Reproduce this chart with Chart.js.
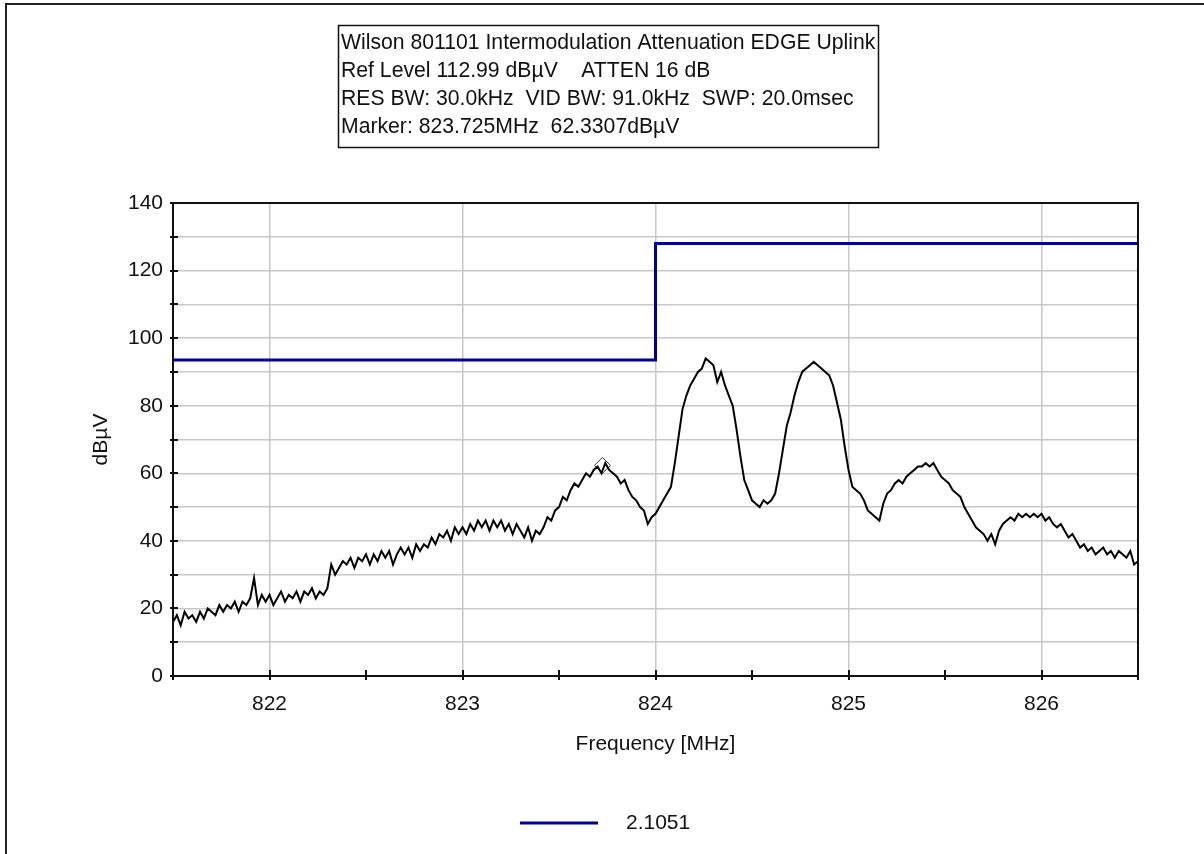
<!DOCTYPE html>
<html>
<head>
<meta charset="utf-8">
<script src="https://cdn.jsdelivr.net/npm/chart.js@4.4.1/dist/chart.umd.min.js"></script>
<style>
  html, body { margin: 0; padding: 0; background: #fff; }
  #wrap { width: 1204px; height: 854px; }
</style>
</head>
<body>
<div id="wrap"><canvas id="im-chart" width="1204" height="854"></canvas></div>
<script>
// Analyzer sweep: 821.5 .. 826.5 MHz, one reading every 20 kHz (dBuV)
const SWEEP_START = 821.5;
const SWEEP_STEP = 0.02;
const LEVELS = [
  16, 18, 15, 19, 17,   18, 16, 19, 17, 20,   19, 18, 21, 19, 21,   20, 22, 19, 22, 21,
  23, 29, 21, 24, 22,   24, 21, 23, 25, 22,   24, 23, 25, 22, 25,   24, 26, 23, 25, 24,
  26, 33, 30, 32, 34,   33, 35, 32, 35, 34,   36, 33, 36, 34, 37,   35, 37, 33, 36, 38,
  36, 38, 35, 39, 37,   39, 38, 41, 39, 42,   41, 43, 40, 44, 42,   44, 42, 45, 43, 46,
  44, 46, 43, 46, 44,   46, 43, 45, 42, 45,   43, 41, 44, 40, 43,   42, 44, 47, 46, 49,
  50, 53, 52, 55, 57,   56, 58, 60, 59, 61,   62, 60, 63, 61, 60,   59, 57, 58, 55, 53,
  52, 50, 49, 45, 47,   48, 50, 52, 54, 56,   63, 71, 79, 83, 86,   88, 90, 91, 94, 93,
  92, 87, 90, 86, 83,   80, 73, 65, 58, 55,   52, 51, 50, 52, 51,   52, 54, 60, 67, 74,
  78, 83, 87, 90, 91,   92, 93, 92, 91, 90,   89, 86, 81, 76, 68,   61, 56, 55, 54, 52,
  49, 48, 47, 46, 51,   54, 55, 57, 58, 57,   59, 60, 61, 62, 62,   63, 62, 63, 61, 59,
  58, 57, 55, 54, 53,   50, 48, 46, 44, 43,   42, 40, 42, 39, 43,   45, 46, 47, 46, 48,
  47, 48, 47, 48, 47,   48, 46, 47, 45, 44,   45, 43, 41, 42, 40,   38, 39, 37, 38, 36,
  37, 38, 36, 37, 35,   37, 36, 35, 37, 33,   34
];

// limit line (stepped) and its legend label
const LIMIT_FREQS = [821.5, 824, 824, 826.5];
const LIMIT_LEVELS = [93.5, 93.5, 128, 128];
const LIMIT_LABEL = '2.1051';

// marker readout
const MARKER_FREQ = 823.725;
const MARKER_LEVEL = 62.3307;

const INFO_LINES = [
  'Wilson 801101 Intermodulation Attenuation EDGE Uplink',
  'Ref Level 112.99 dB\u00b5V    ATTEN 16 dB',
  'RES BW: 30.0kHz  VID BW: 91.0kHz  SWP: 20.0msec',
  'Marker: 823.725MHz  62.3307dB\u00b5V'
];

const X_MIN = 821.5, X_MAX = 826.5, X_STEP = 0.5;
const Y_MIN = 0, Y_MAX = 140, Y_STEP = 10;

const FONT = "'Liberation Sans', Arial, sans-serif";
const NAVY = '#000090';
const GRID = '#c8c8c8';

const isWhole = v => Math.abs(v - Math.round(v)) < 1e-6;

const trace = LEVELS.map((v, i) => ({ x: +(SWEEP_START + i * SWEEP_STEP).toFixed(2), y: v }));
const limit = LIMIT_FREQS.map((f, i) => ({ x: f, y: LIMIT_LEVELS[i] }));

// frame, crossing tick marks, info box and legend
const panelPlugin = {
  id: 'panel',
  beforeDraw(chart) {
    const c = chart.ctx;
    c.save();
    c.fillStyle = '#fff';
    c.fillRect(0, 0, chart.width, chart.height);
    c.restore();
  },
  afterDraw(chart) {
    const c = chart.ctx;
    const { left, right, top, bottom } = chart.chartArea;
    const xs = chart.scales.x, ys = chart.scales.y;
    c.save();

    c.strokeStyle = '#222';
    c.lineWidth = 2;
    c.beginPath();
    c.moveTo(6, chart.height);
    c.lineTo(6, 4);
    c.lineTo(chart.width, 4);
    c.stroke();

    c.strokeStyle = '#111';
    c.strokeRect(left, top, right - left, bottom - top);

    c.beginPath();
    ys.ticks.forEach(t => {
      const y = Math.round(ys.getPixelForValue(t.value));
      c.moveTo(left - 3, y); c.lineTo(left + 5, y);
    });
    xs.ticks.forEach(t => {
      const x = Math.round(xs.getPixelForValue(t.value));
      c.moveTo(x, bottom - 6); c.lineTo(x, bottom + 4);
    });
    c.stroke();

    // info box
    c.lineWidth = 1.5;
    c.strokeStyle = '#111';
    c.strokeRect(338.5, 25.5, 540, 122);
    c.fillStyle = '#111';
    c.font = '21.2px ' + FONT;
    c.textAlign = 'left';
    c.textBaseline = 'middle';
    INFO_LINES.forEach((s, i) => c.fillText(s, 341, 43 + i * 28));

    // legend
    c.strokeStyle = NAVY;
    c.lineWidth = 3;
    c.beginPath();
    c.moveTo(520, 823); c.lineTo(598, 823);
    c.stroke();
    c.font = '21px ' + FONT;
    c.fillText(LIMIT_LABEL, 626, 823);

    c.restore();
  }
};

new Chart(document.getElementById('im-chart'), {
  type: 'line',
  data: {
    datasets: [
      {
        label: 'trace',
        data: trace,
        borderColor: '#000',
        borderWidth: 2,
        pointRadius: 0,
        tension: 0
      },
      {
        label: LIMIT_LABEL,
        data: limit,
        borderColor: NAVY,
        borderWidth: 3,
        pointRadius: 0,
        tension: 0
      },
      {
        label: 'marker',
        data: [{ x: MARKER_FREQ, y: MARKER_LEVEL }],
        showLine: false,
        pointStyle: 'rectRot',
        pointRadius: 8,
        pointBorderWidth: 1,
        pointBorderColor: '#333',
        pointBackgroundColor: 'rgba(0,0,0,0)'
      }
    ]
  },
  options: {
    responsive: false,
    animation: false,
    devicePixelRatio: 1,
    layout: { padding: { left: 80, top: 203, right: 66, bottom: 97 } },
    plugins: {
      legend: { display: false },
      tooltip: { enabled: false }
    },
    scales: {
      x: {
        type: 'linear',
        min: X_MIN,
        max: X_MAX,
        afterFit: s => { s.height = 81; },
        border: { display: false },
        grid: {
          drawTicks: false,
          lineWidth: 1.5,
          color: ctx => (ctx.tick && isWhole(ctx.tick.value)) ? GRID : 'rgba(0,0,0,0)'
        },
        ticks: {
          stepSize: X_STEP,
          padding: 16,
          color: '#111',
          font: { family: FONT, size: 21 },
          callback: v => isWhole(v) ? String(Math.round(v)) : ''
        },
        title: {
          display: true,
          text: 'Frequency [MHz]',
          color: '#111',
          padding: { top: 0, bottom: 0 },
          font: { family: FONT, size: 21 }
        }
      },
      y: {
        min: Y_MIN,
        max: Y_MAX,
        afterFit: s => { s.width = 93; },
        border: { display: false },
        grid: { drawTicks: false, lineWidth: 1.5, color: GRID },
        ticks: {
          stepSize: Y_STEP,
          padding: 10,
          color: '#111',
          font: { family: FONT, size: 21 },
          callback: v => v % 20 === 0 ? String(v) : ''
        },
        title: {
          display: true,
          text: 'dB\u00b5V',
          color: '#111',
          padding: { top: 9, bottom: 0 },
          font: { family: FONT, size: 21 }
        }
      }
    }
  },
  plugins: [panelPlugin]
});
</script>
</body>
</html>
